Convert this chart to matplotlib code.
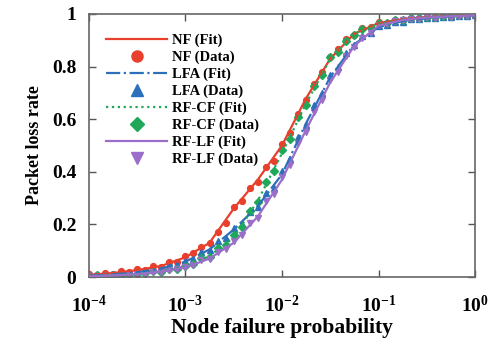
import numpy as np
import matplotlib
matplotlib.use("Agg")
import matplotlib.pyplot as plt
from matplotlib.ticker import NullLocator, FixedLocator

plt.rcParams['font.family'] = ['Liberation Serif', 'DejaVu Serif']
plt.rcParams['font.weight'] = 'bold'
plt.rcParams['mathtext.fontset'] = 'custom'
plt.rcParams['mathtext.rm'] = 'Liberation Serif:bold'
plt.rcParams['mathtext.it'] = 'Liberation Serif:bold'
plt.rcParams['mathtext.bf'] = 'Liberation Serif:bold'

# log10 of node failure probability
fit_logx = [-4.0, -3.75, -3.5, -3.25, -3.0, -2.75, -2.5, -2.25, -2.0,
            -1.75, -1.5, -1.25, -1.0, -0.75, -0.5, -0.25, 0.0]
data_logx = [-4 + k / 12 for k in range(49)]

nf_fit = [0.008, 0.015, 0.026, 0.042, 0.075, 0.13, 0.26, 0.37, 0.50,
          0.68, 0.83, 0.925, 0.965, 0.98, 0.988, 0.992, 0.995]
lfa_fit = [0.005, 0.010, 0.018, 0.032, 0.058, 0.105, 0.18, 0.27, 0.39,
           0.585, 0.76, 0.885, 0.95, 0.973, 0.984, 0.99, 0.993]
rfcf_fit = [0.004, 0.007, 0.012, 0.022, 0.04, 0.08, 0.15, 0.29, 0.47,
            0.66, 0.83, 0.925, 0.962, 0.979, 0.988, 0.993, 0.996]
rflf_fit = [0.003, 0.006, 0.011, 0.02, 0.036, 0.07, 0.13, 0.23, 0.37,
            0.56, 0.74, 0.88, 0.955, 0.977, 0.986, 0.991, 0.994]

nf_data = [0.012, 0.008, 0.014, 0.013, 0.022, 0.019, 0.030, 0.027, 0.040, 0.038,
           0.056, 0.058, 0.080, 0.092, 0.115, 0.128, 0.172, 0.205, 0.268, 0.290,
           0.338, 0.362, 0.418, 0.440, 0.505, 0.548, 0.618, 0.672, 0.735, 0.778,
           0.835, 0.866, 0.905, 0.921, 0.946, 0.952, 0.968, 0.967, 0.978, 0.977,
           0.984, 0.983, 0.989, 0.987, 0.992, 0.990, 0.995, 0.993, 0.996]
lfa_data = [0.006, 0.005, 0.009, 0.011, 0.012, 0.017, 0.019, 0.021, 0.030, 0.031,
            0.044, 0.047, 0.062, 0.070, 0.094, 0.102, 0.135, 0.150, 0.186, 0.202,
            0.246, 0.265, 0.318, 0.340, 0.402, 0.450, 0.532, 0.578, 0.652, 0.698,
            0.768, 0.800, 0.853, 0.880, 0.915, 0.928, 0.953, 0.956, 0.968, 0.971,
            0.979, 0.980, 0.985, 0.984, 0.989, 0.989, 0.992, 0.991, 0.994]
rfcf_data = [0.003, 0.006, 0.005, 0.008, 0.008, 0.011, 0.013, 0.014, 0.021, 0.020,
             0.031, 0.032, 0.043, 0.050, 0.072, 0.077, 0.110, 0.122, 0.158, 0.190,
             0.252, 0.284, 0.362, 0.402, 0.482, 0.526, 0.608, 0.652, 0.726, 0.768,
             0.838, 0.857, 0.898, 0.921, 0.942, 0.948, 0.965, 0.966, 0.975, 0.978,
             0.984, 0.984, 0.989, 0.988, 0.993, 0.992, 0.995, 0.994, 0.997]
rflf_data = [0.002, 0.005, 0.004, 0.007, 0.007, 0.010, 0.012, 0.013, 0.019, 0.019,
             0.028, 0.029, 0.039, 0.045, 0.063, 0.068, 0.096, 0.106, 0.136, 0.158,
             0.205, 0.224, 0.288, 0.316, 0.380, 0.426, 0.508, 0.553, 0.628, 0.674,
             0.748, 0.781, 0.840, 0.875, 0.910, 0.926, 0.958, 0.960, 0.972, 0.975,
             0.982, 0.982, 0.987, 0.986, 0.991, 0.990, 0.993, 0.992, 0.995]

series = [
    ("NF", nf_fit, nf_data, '#e8402d', '-', 'o', 4.2),
    ("LFA", lfa_fit, lfa_data, '#2c6fbb', '-.', '^', 4.5),
    ("RF-CF", rfcf_fit, rfcf_data, '#1fa85a', ':', 'D', 3.6),
    ("RF-LF", rflf_fit, rflf_data, '#9b6fc9', '-', 'v', 4.5),
]

fig = plt.figure(figsize=(4.96, 3.48), dpi=100)
ax = fig.add_axes([0.179, 0.204, 0.779, 0.756])

fx = 10.0 ** np.array(fit_logx)
dx = 10.0 ** np.array(data_logx)
handles = []
for name, fit, data, col, ls, mk, ms in series:
    l, = ax.plot(fx, fit, color=col, ls=ls, lw=1.6, label=f"{name} (Fit)", zorder=3)
    p, = ax.plot(dx, data, ls='none', marker=mk, ms=ms, color=col, mec=col,
                 label=f"{name} (Data)", zorder=2)
    handles += [l, p]

ax.set_xscale('log')
ax.set_xlim(1e-4, 1)
ax.set_ylim(0, 1)
ax.xaxis.set_major_locator(FixedLocator([1e-4, 1e-3, 1e-2, 1e-1, 1]))
ax.xaxis.set_minor_locator(NullLocator())
ax.set_xticklabels([r'$10^{-4}$', r'$10^{-3}$', r'$10^{-2}$', r'$10^{-1}$', r'$10^{0}$'])
ax.set_yticks([0, 0.2, 0.4, 0.6, 0.8, 1.0])
ax.set_yticklabels(['0', '0.2', '0.4', '0.6', '0.8', '1'])
ax.tick_params(axis='both', direction='in', top=True, right=True, length=5,
               width=1, color='#555555', labelsize=14)
ax.tick_params(axis='x', pad=13)
ax.tick_params(axis='y', pad=9)
for s in ax.spines.values():
    s.set_color('#666666')
    s.set_linewidth(1.2)

ax.set_xlabel('Node failure probability', fontsize=15.5, fontweight='bold', labelpad=1)
ax.set_ylabel('Packet loss rate', fontsize=13, fontweight='bold', labelpad=6)

leg = ax.legend(handles=handles, loc='upper left', bbox_to_anchor=(0.03, 0.948),
                frameon=False, fontsize=10.5, handlelength=4.2, handletextpad=0.3,
                labelspacing=0.24, markerscale=1.9, borderaxespad=0)
for t in leg.get_texts():
    t.set_fontweight('bold')

fig.savefig('out.png', dpi=100)
